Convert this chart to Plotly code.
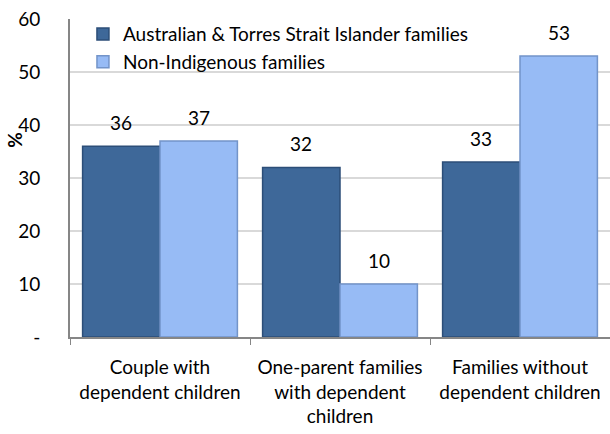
import plotly.graph_objects as go

categories = ["Couple with<br>dependent children",
              "One-parent families<br>with dependent<br>children",
              "Families without<br>dependent children"]
indigenous = [36, 32, 33]
non_indigenous = [37, 10, 53]
series_names = ["Australian & Torres Strait Islander families", "Non-Indigenous families"]
y_tickvals = [0, 10, 20, 30, 40, 50, 60]
y_ticktext = ["-", "10", "20", "30", "40", "50", "60"]

FONT = "Lato, Calibri, Carlito, sans-serif"
FS = 19
dark = "#3E6899"
light = "#97BBF5"

fig = go.Figure()
fig.add_trace(go.Bar(x=categories, y=indigenous, name=series_names[0],
                     marker=dict(color=dark, line=dict(color="#2C4E78", width=1.5))))
fig.add_trace(go.Bar(x=categories, y=non_indigenous, name=series_names[1],
                     marker=dict(color=light, line=dict(color="#7394C9", width=1.5))))

annotations = []
for cat, v in zip(categories, indigenous):
    annotations.append(dict(x=cat, y=v, xref="x", yref="y", text=str(v), showarrow=False,
                            xshift=-39, yshift=10, yanchor="bottom",
                            font=dict(family=FONT, size=FS, color="#000")))
for cat, v in zip(categories, non_indigenous):
    annotations.append(dict(x=cat, y=v, xref="x", yref="y", text=str(v), showarrow=False,
                            xshift=39, yshift=10, yanchor="bottom",
                            font=dict(family=FONT, size=FS, color="#000")))
annotations.append(dict(x=-0.102, y=0.62, xref="paper", yref="paper", text="<b>%</b>",
                        textangle=-90, showarrow=False, xanchor="center", yanchor="middle",
                        font=dict(family=FONT, size=FS, color="#000")))

fig.update_layout(
    width=610, height=434,
    margin=dict(l=70, r=0, t=19, b=97, autoexpand=False),
    paper_bgcolor="white", plot_bgcolor="white",
    barmode="group", bargap=0.14, bargroupgap=0,
    font=dict(family=FONT, size=FS, color="#000"),
    showlegend=True,
    legend=dict(x=0.024, y=1.012, xanchor="left", yanchor="top",
                bgcolor="rgba(0,0,0,0)", font=dict(family=FONT, size=FS, color="#000"),
                tracegroupgap=0, itemwidth=30),
    annotations=annotations,
    xaxis=dict(showline=True, linecolor="#868686", linewidth=2, automargin=False,
               ticks="outside", tickson="boundaries", ticklen=6, tickcolor="#868686",
               ticklabelstandoff=12,
               tickfont=dict(family=FONT, size=FS, color="#000"), showgrid=False),
    yaxis=dict(range=[0, 60], tickvals=y_tickvals, ticktext=y_ticktext, automargin=False,
               showline=True, linecolor="#868686", linewidth=2,
               gridcolor="#D9D9D9", gridwidth=1.5, zeroline=False,
               ticks="", ticklabelstandoff=24,
               tickfont=dict(family=FONT, size=FS, color="#000")),
)

fig.write_html("out.html", config={"displayModeBar": False},
               post_script="document.body.style.margin='0';document.body.style.padding='0';")
